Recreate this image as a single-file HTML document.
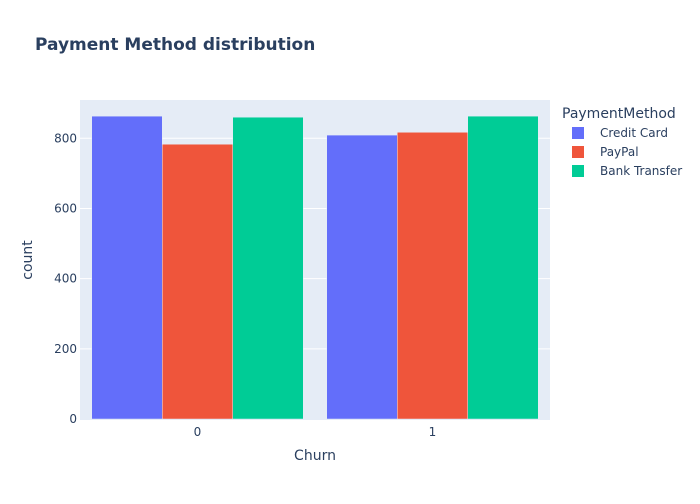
<!DOCTYPE html>
<html><head><meta charset="utf-8"><style>
body{margin:0;background:#fff;font-family:"DejaVu Sans",sans-serif;}
svg text{font-family:"DejaVu Sans","Liberation Sans",sans-serif;}
</style></head><body>
<svg id="chart" width="700" height="500">
<rect width="700" height="500" fill="#fff"/>
<text x="35" y="50" font-size="17" font-weight="bold" fill="#2a3f5f">Payment Method distribution</text>
<rect x="80" y="100" width="470" height="320" fill="#e5ecf6"/>
<g id="grid"></g><g id="bars"></g><g id="ticks"></g>
<text x="315" y="460" font-size="14" fill="#2a3f5f" text-anchor="middle">Churn</text>
<text transform="translate(32,260) rotate(-90)" font-size="14" fill="#2a3f5f" text-anchor="middle">count</text>
<text x="562" y="118" font-size="14" fill="#2a3f5f">PaymentMethod</text>
<g id="legend"></g>
</svg>
<script>
const categories=["0","1"];
const seriesNames=["Credit Card","PayPal","Bank Transfer"];
const creditCard=[863,809];
const payPal=[783,817];
const bankTransfer=[860,863];
const yTicks=[0,200,400,600,800];
const colors=["#636efa","#ef553b","#00cc96"];
const series=[creditCard,payPal,bankTransfer];
const X0=80,W=470,Y0=419,H=319,YMAX=909;
const ns="http://www.w3.org/2000/svg";
function y(v){return Y0-v/YMAX*H;}
function mk(tag,attrs,parent){const e=document.createElementNS(ns,tag);for(const k in attrs)e.setAttribute(k,attrs[k]);document.getElementById(parent).appendChild(e);return e;}
const bandW=W/categories.length, groupW=bandW*0.9, barW=groupW/series.length;
yTicks.forEach(t=>{
 if(t>0){const g=mk("line",{x1:X0,x2:X0+W,y1:y(t),y2:y(t),stroke:"#fff","stroke-width":1},"grid");
 
 }
 const l=mk("text",{x:X0-3,y:y(t)+4,"font-size":12,fill:"#2a3f5f","text-anchor":"end"},"ticks");l.textContent=t;
 
 
});
categories.forEach((c,i)=>{
 const cx=X0+bandW*(i+0.5);
 const l=mk("text",{x:cx,y:Y0+17,"font-size":12,fill:"#2a3f5f","text-anchor":"middle"},"ticks");l.textContent=c;
 
 
 series.forEach((s,j)=>{
  const bx=cx-groupW/2+j*barW;
  const r=mk("rect",{x:bx,y:y(s[i]),width:barW,height:Y0-y(s[i]),fill:colors[j],stroke:"#e5ecf6","stroke-width":0.5},"bars");
  
  
 });
});
seriesNames.forEach((n,j)=>{
 const yy=133+j*19;
 const r=mk("rect",{x:572,y:yy-6,width:12,height:12,fill:colors[j]},"legend");
 
 
 const t=mk("text",{x:600,y:yy+4,"font-size":12,fill:"#2a3f5f"},"legend");t.textContent=n;
 
 
});
</script>
</body></html>
